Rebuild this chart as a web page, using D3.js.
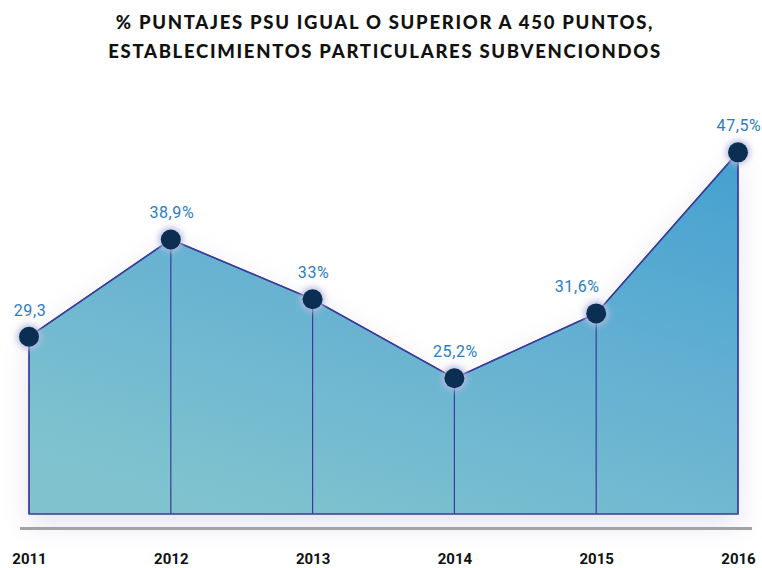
<!DOCTYPE html>
<html>
<head>
<meta charset="utf-8">
<script src="https://cdn.jsdelivr.net/npm/d3@7"></script>
<style>
  html, body { margin: 0; padding: 0; background: #fff; }
  svg { display: block; }
</style>
</head>
<body>
<div id="chart"></div>
<script>
'use strict';

// ------------------------------------
// DATA
// ------------------------------------
const years = ["2011", "2012", "2013", "2014", "2015", "2016"];
const values = [29.3, 38.9, 33, 25.2, 31.6, 47.5];
const valueLabels = ["29,3", "38,9%", "33%", "25,2%", "31,6%", "47,5%"];
const titleLines = [
  "% PUNTAJES PSU IGUAL O SUPERIOR A 450 PUNTOS,",
  "ESTABLECIMIENTOS PARTICULARES SUBVENCIONDOS"
];

// ------------------------------------
// SETUP
// ------------------------------------
const width = 762;
const height = 568;

// the 2015 label sits a bit left so it clears the rising line
const labelNudge = { "2015": -20 };

const svg = d3.select("#chart")
  .append("svg")
  .attr("width", width)
  .attr("height", height);

const defs = svg.append("defs");

// area gradient: darker blue top-right, lighter teal bottom
const grad = defs.append("linearGradient")
  .attr("id", "areaGrad")
  .attr("x1", "0.3").attr("y1", "1")
  .attr("x2", "0.9").attr("y2", "0");
grad.append("stop").attr("offset", "0%").attr("stop-color", "#80c3cf");
grad.append("stop").attr("offset", "55%").attr("stop-color", "#64b0d2");
grad.append("stop").attr("offset", "100%").attr("stop-color", "#46a2d0");

const shadow = defs.append("filter")
  .attr("id", "soft")
  .attr("x", "-20%").attr("y", "-20%")
  .attr("width", "140%").attr("height", "150%");
shadow.append("feGaussianBlur").attr("stdDeviation", 14);

const glow = defs.append("filter")
  .attr("id", "glow")
  .attr("x", "-100%").attr("y", "-100%")
  .attr("width", "300%").attr("height", "300%");
glow.append("feGaussianBlur").attr("stdDeviation", 3);

// Scales
const x = d3.scalePoint().domain(years).range([29, 738]);
const y = d3.scaleLinear().domain([11.8, 50]).range([514, 127]);

const data = years.map((yr, i) => ({ year: yr, value: values[i], label: valueLabels[i] }));

// ------------------------------------
// TITLE
// ------------------------------------
svg.append("g")
  .selectAll("text")
  .data(titleLines)
  .join("text")
  .attr("x", width / 2 + 4)
  .attr("y", (d, i) => 29 + i * 29)
  .attr("text-anchor", "middle")
  .attr("font-family", "Lato, 'Open Sans', sans-serif")
  .attr("font-weight", 900)
  .attr("font-size", 18.5)
  .attr("letter-spacing", 1.7)
  .attr("fill", "#111")
  .text(d => d);

// ------------------------------------
// AREA
// ------------------------------------
const area = d3.area()
  .x(d => x(d.year))
  .y0(y(11.8))
  .y1(d => y(d.value));

const line = d3.line()
  .x(d => x(d.year))
  .y(d => y(d.value));

// soft shadow behind
svg.append("path")
  .datum(data)
  .attr("d", area)
  .attr("fill", "#c9c9e6")
  .attr("opacity", 0.55)
  .attr("transform", "translate(0,10)")
  .attr("filter", "url(#soft)");

svg.append("path")
  .datum(data)
  .attr("d", area)
  .attr("fill", "url(#areaGrad)")
  .attr("stroke", "#3b3b99")
  .attr("stroke-width", 1.3);

// vertical drop lines
svg.append("g")
  .selectAll("line")
  .data(data)
  .join("line")
  .attr("x1", d => x(d.year))
  .attr("x2", d => x(d.year))
  .attr("y1", d => y(d.value))
  .attr("y2", y(11.8))
  .attr("stroke", "#3b3b99")
  .attr("stroke-width", 1.2);

svg.append("path")
  .datum(data)
  .attr("d", line)
  .attr("fill", "none")
  .attr("stroke", "#3b3b99")
  .attr("stroke-width", 1.5);

// axis baseline (grey bar)
svg.append("line")
  .attr("x1", 20)
  .attr("x2", 752)
  .attr("y1", 528.5)
  .attr("y2", 528.5)
  .attr("stroke", "#a3a3a3")
  .attr("stroke-width", 3);

// ------------------------------------
// POINTS + LABELS
// ------------------------------------
const pts = svg.append("g");

pts.selectAll(".halo")
  .data(data)
  .join("circle")
  .attr("class", "halo")
  .attr("cx", d => x(d.year))
  .attr("cy", d => y(d.value))
  .attr("r", 12)
  .attr("fill", "#b9b9e0")
  .attr("filter", "url(#glow)");

pts.selectAll(".dot")
  .data(data)
  .join("circle")
  .attr("class", "dot")
  .attr("cx", d => x(d.year))
  .attr("cy", d => y(d.value))
  .attr("r", 10)
  .attr("fill", "#0b2f52");

pts.selectAll(".val")
  .data(data)
  .join("text")
  .attr("class", "val")
  .attr("x", d => x(d.year) + 1 + (labelNudge[d.year] || 0))
  .attr("y", d => y(d.value) - 21)
  .attr("text-anchor", "middle")
  .attr("font-family", "Roboto, 'Open Sans', sans-serif")
  .attr("font-size", 16)
  .attr("letter-spacing", 0.6)
  .attr("fill", "#2a7cc3")
  .text(d => d.label);

// x axis labels
const xAxis = d3.axisBottom(x).tickSize(0).tickPadding(0);
const gx = svg.append("g")
  .attr("transform", "translate(0,553)")
  .call(xAxis);
gx.select(".domain").remove();
gx.selectAll("text")
  .attr("font-family", "Roboto, 'Liberation Sans', sans-serif")
  .attr("font-weight", 700)
  .attr("font-size", 15)
  .attr("fill", "#111");
</script>
</body>
</html>
